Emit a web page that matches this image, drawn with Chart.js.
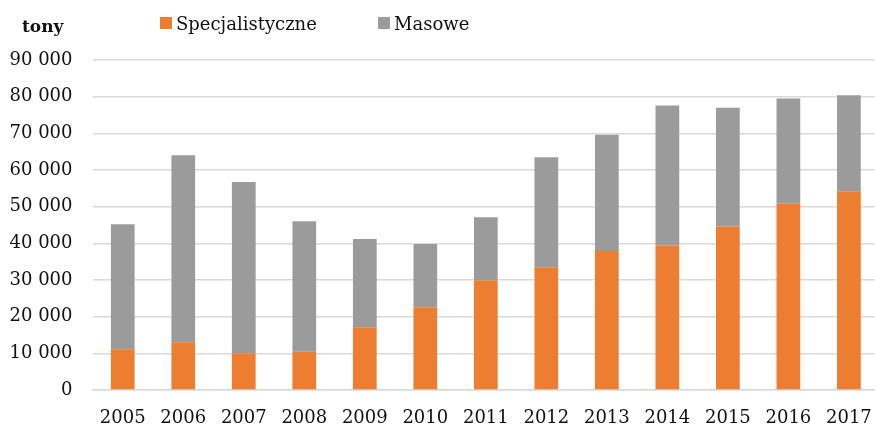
<!doctype html>
<html lang="pl">
<head>
<meta charset="utf-8">
<title>tony</title>
<style>
  * { margin: 0; padding: 0; }
  body { background: #fff; overflow: hidden; width: 875px; height: 428px; }
  #wrap { width: 890px; height: 428px; }
</style>
</head>
<body>
<div id="wrap"><canvas id="chart" width="890" height="428"></canvas></div>
<script src="https://cdn.jsdelivr.net/npm/chart.js/dist/chart.umd.min.js"></script>
<script>
// data (tonnes)
const years = ['2005','2006','2007','2008','2009','2010','2011','2012','2013','2014','2015','2016','2017'];
const specjalistyczne = [11100, 13000, 10000, 10400, 17100, 22600, 29900, 33500, 37900, 39400, 44600, 50800, 54200];
const masowe = [34100, 51000, 46700, 35600, 24100, 17200, 17200, 30000, 31700, 38200, 32400, 28700, 26200];
const yMax = 90000;
const yStep = 10000;

const FONT = '"DejaVu Serif", serif';
const TEXT = '#111';

function fmt(v) {
  return String(v).replace(/\B(?=(\d{3})+(?!\d))/g, ' ');
}

// unit label + legend drawn above the plot, Excel style
const topLegend = {
  id: 'topLegend',
  afterDraw(chart) {
    const ctx = chart.ctx;
    ctx.save();
    ctx.fillStyle = TEXT;
    ctx.textBaseline = 'alphabetic';
    ctx.font = 'bold 17px ' + FONT;
    ctx.fillText('tony', 22, 32);

    ctx.font = '18px ' + FONT;
    const boxX = [160, 378];
    chart.data.datasets.forEach((ds, i) => {
      ctx.fillStyle = ds.backgroundColor;
      ctx.fillRect(boxX[i], 17, 12, 12);
      ctx.fillStyle = TEXT;
      ctx.fillText(ds.label, boxX[i] + 16, 30);
    });
    ctx.restore();
  }
};

new Chart(document.getElementById('chart'), {
  type: 'bar',
  data: {
    labels: years,
    datasets: [
      { label: 'Specjalistyczne', data: specjalistyczne, backgroundColor: '#ED7D31', borderWidth: 0 },
      { label: 'Masowe', data: masowe, backgroundColor: '#9B9B9B', borderWidth: 0 }
    ]
  },
  options: {
    responsive: false,
    animation: false,
    layout: { padding: { left: 10, right: 5, top: 60, bottom: 0 } },
    datasets: { bar: { barPercentage: 0.49, categoryPercentage: 0.8 } },
    plugins: {
      legend: { display: false },
      tooltip: { enabled: false }
    },
    scales: {
      x: {
        stacked: true,
        grid: { display: false, drawTicks: false },
        border: { display: true, color: '#d9d9d9', width: 1.5 },
        ticks: { color: TEXT, font: { family: FONT, size: 18 }, padding: 18, maxRotation: 0, autoSkip: false },
        afterFit(scale) { scale.height = 38; }
      },
      y: {
        stacked: true,
        min: 0,
        max: yMax,
        grid: { color: '#d9d9d9', lineWidth: 1.5, drawTicks: false },
        border: { display: false },
        ticks: {
          stepSize: yStep,
          color: TEXT,
          font: { family: FONT, size: 18 },
          padding: 20,
          callback: v => fmt(v)
        },
        afterFit(scale) { scale.width = 82.5; }
      }
    }
  },
  plugins: [topLegend]
});
</script>
</body>
</html>
